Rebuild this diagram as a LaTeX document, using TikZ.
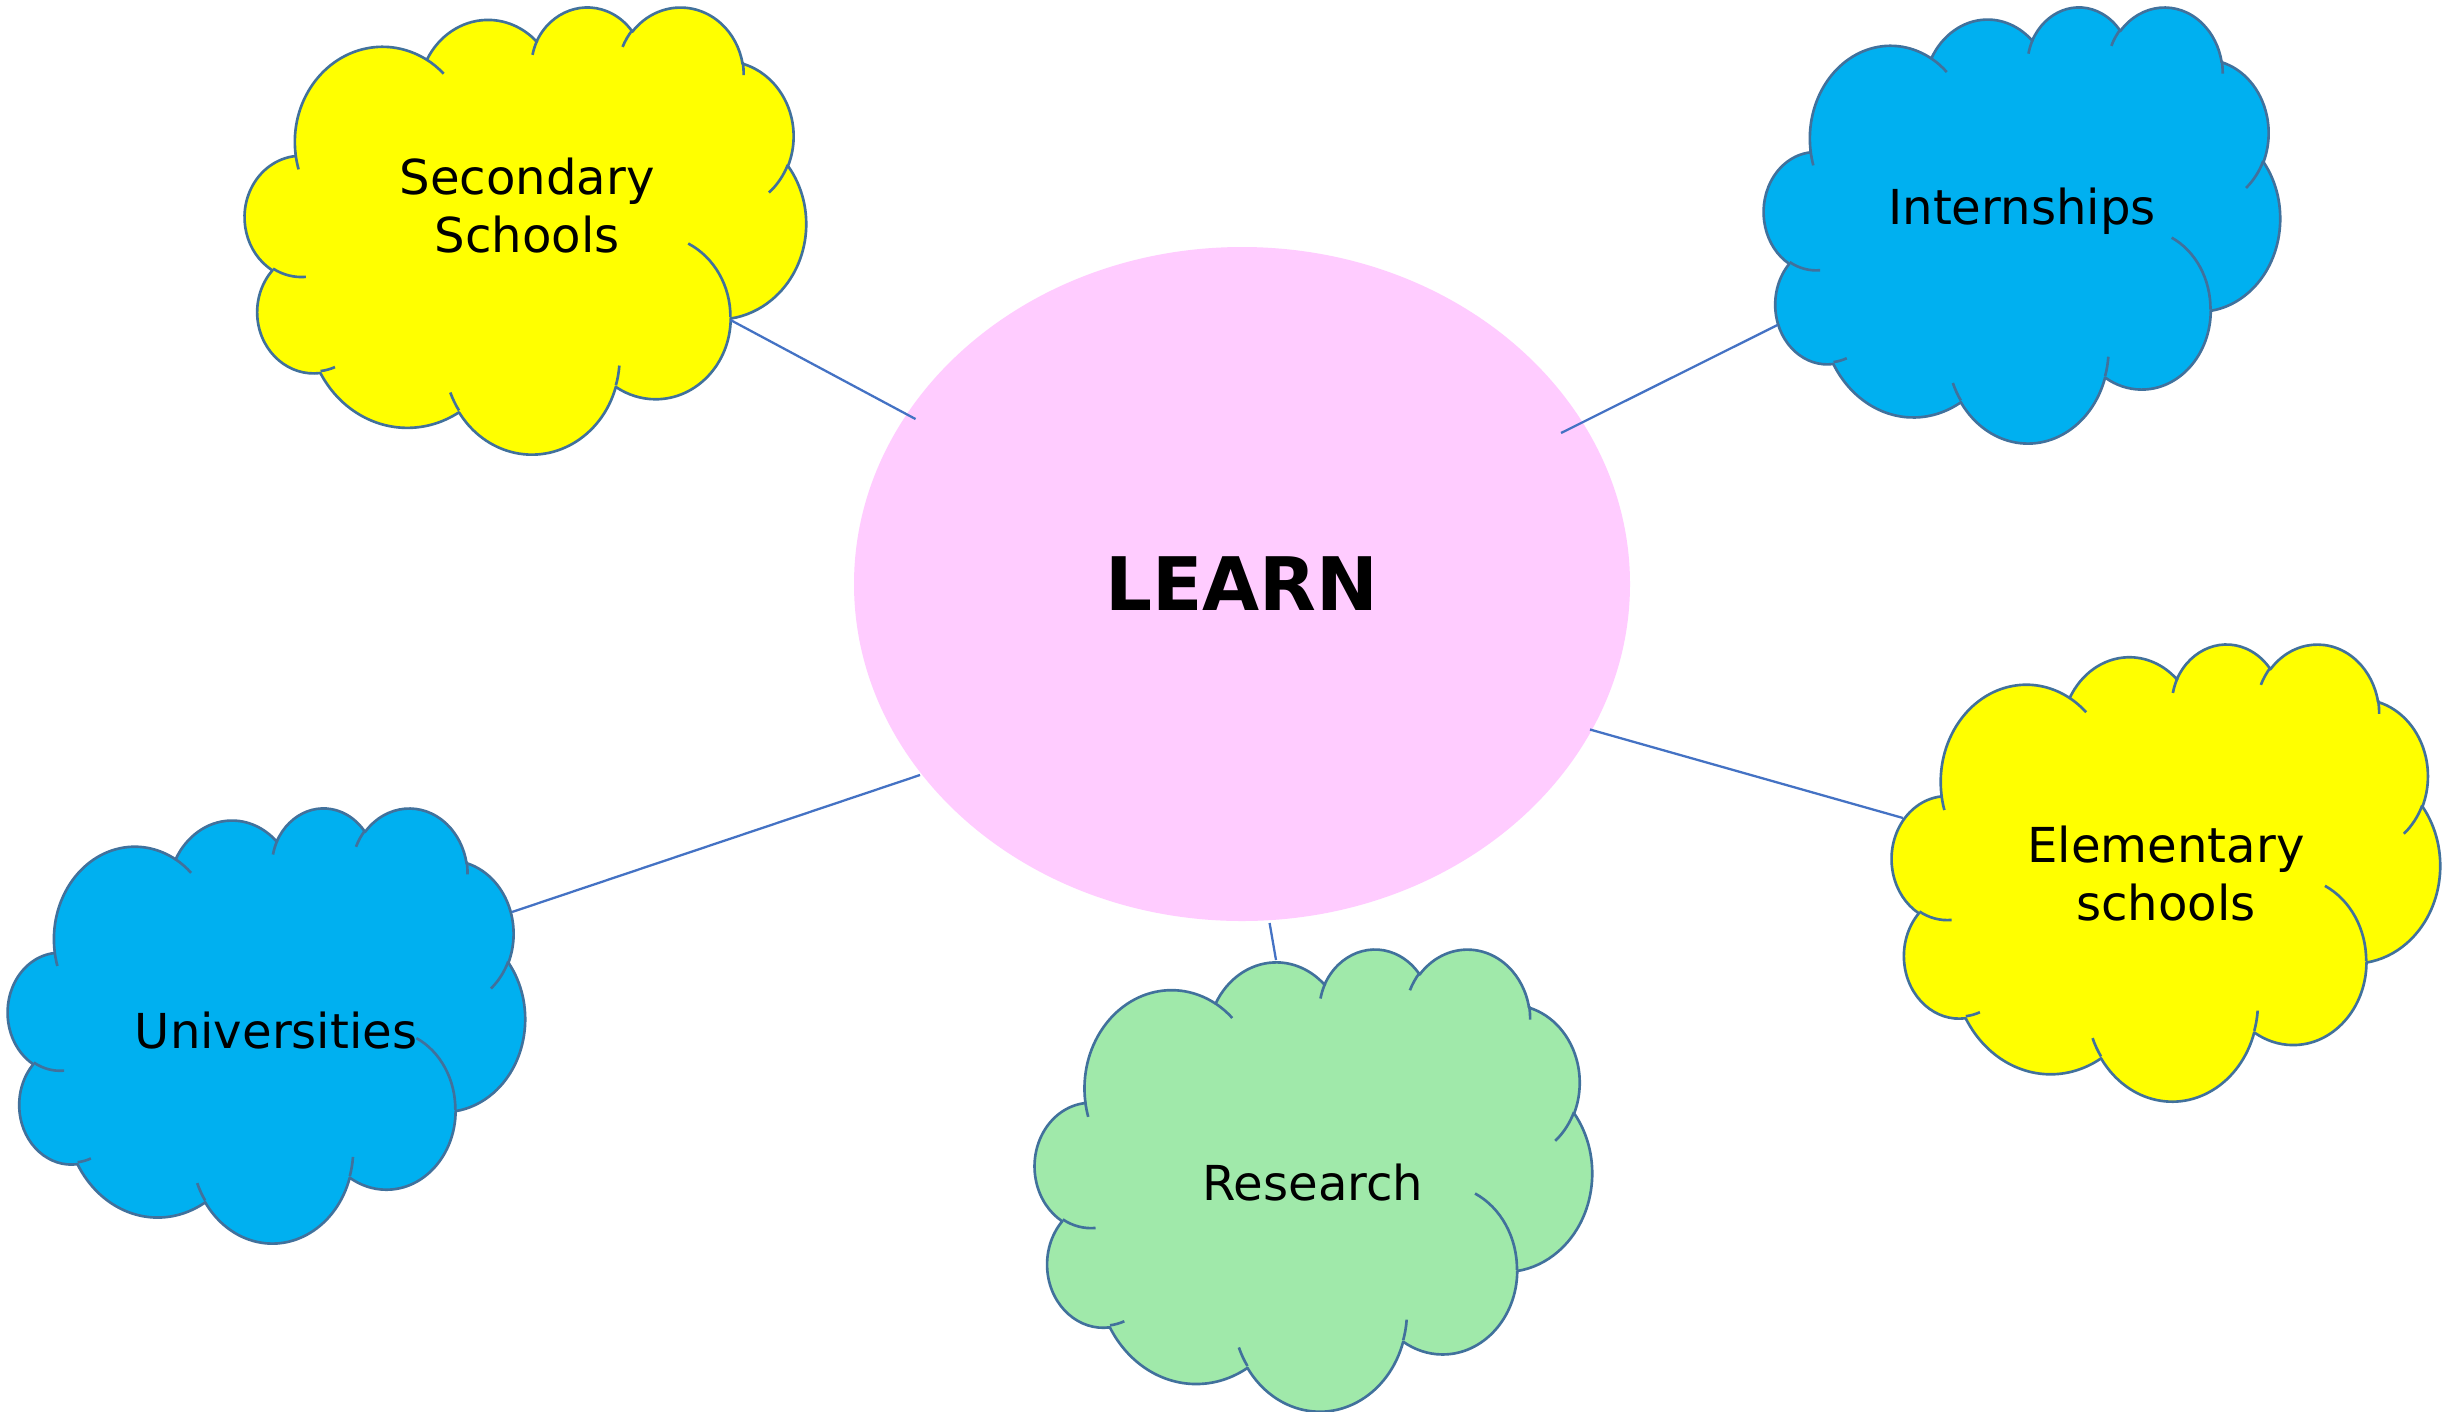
\documentclass[tikz,border=0pt]{standalone}
\usepackage{fontspec}
\setmainfont{DejaVu Sans}
\usetikzlibrary{shapes.geometric}
\definecolor{cloudedge}{HTML}{41719C}
\definecolor{connblue}{HTML}{4472C4}
\definecolor{cyellow}{HTML}{FFFF00}
\definecolor{cblue}{HTML}{00B0F0}
\definecolor{cgreen}{HTML}{A0E9AA}
\definecolor{cpink}{HTML}{FFCCFF}
% visual (DrawingML) angle -> parametric ellipse angle, kept continuous
\def\vp#1#2#3{\fpeval{round((#3) + ((atand((#1)*sind(#3),(#2)*cosd(#3)) - (#3)) - 360*round((atand((#1)*sind(#3),(#2)*cosd(#3)) - (#3))/360)), 4)}}
\newcommand\mkarc[5]{%
  \expandafter\edef\csname cldS#1\endcsname{\vp{#2}{#3}{#4}}%
  \expandafter\edef\csname cldE#1\endcsname{\vp{#2}{#3}{(#4)+(#5)}}%
}
\mkarc{a}{0.6753}{0.9190}{-190.48748}{123.78053}
\mkarc{b}{0.5333}{0.7267}{-144.10238}{89.94523}
\mkarc{c}{0.4365}{0.5945}{-145.80792}{99.72302}
\mkarc{d}{0.4857}{0.6595}{-130.98607}{117.24173}
\mkarc{e}{0.5333}{0.7273}{-78.70888}{109.02692}
\mkarc{f}{0.6775}{0.9220}{-46.26725}{130.269}
\mkarc{g}{0.5785}{0.7867}{0.62502}{114.03333}
\mkarc{h}{0.6752}{0.9215}{22.4516}{115.17255}
\mkarc{i}{0.7720}{1.0543}{66.24263}{75.71102}
\mkarc{j}{0.4360}{0.5918}{-274.94208}{146.73557}
\mkarc{k}{0.4345}{0.5945}{-246.8285}{152.51885}
\mkarc{m}{0.4345}{0.5945}{86.742}{26.4295}
\mkarc{n}{0.4360}{0.5918}{73.61047}{11.44747}
\mkarc{o}{0.6752}{0.9215}{137.62415}{14.0811}
\mkarc{p}{0.6752}{0.9215}{6.45327}{15.99835}
\mkarc{q}{0.5785}{0.7867}{-70.29235}{70.91737}
\mkarc{r}{0.5333}{0.7273}{30.31803}{27.7515}
\mkarc{s}{0.4857}{0.6595}{-13.74433}{14.8589}
\mkarc{t}{0.4857}{0.6595}{-149.18145}{18.19537}
\mkarc{u}{0.4365}{0.5945}{-163.49427}{17.68635}
\mkarc{v}{0.6753}{0.9190}{-66.70695}{12.31935}
\mkarc{w}{0.6753}{0.9190}{157.65435}{11.85817}
\tikzset{
  cloud outline/.style={draw=cloudedge, line width=0.75pt, line join=round},
  conn/.style={draw=connblue, line width=0.65pt},
  lbl/.style={font=\fontsize{13.7}{16.6}\selectfont, inner sep=0pt, text=black},
  hub/.style={ellipse, fill=cpink, draw=none, inner sep=0pt,
    minimum width=7.76cm, minimum height=6.74cm,
    font=\fontsize{21}{25}\selectfont\bfseries}
}
% #1 left, #2 top, #3 width, #4 height (pixels), #5 fill colour
\newcommand\drawcloud[5]{%
\begin{scope}[shift={(#1/100,-#2/100)},xscale=#3/432,yscale=-#4/432]
\draw[cloud outline, fill=#5] (0.39,1.437)
 arc[x radius=0.6753,y radius=0.9190,start angle=\cldSa,end angle=\cldEa]
 arc[x radius=0.5333,y radius=0.7267,start angle=\cldSb,end angle=\cldEb]
 arc[x radius=0.4365,y radius=0.5945,start angle=\cldSc,end angle=\cldEc]
 arc[x radius=0.4857,y radius=0.6595,start angle=\cldSd,end angle=\cldEd]
 arc[x radius=0.5333,y radius=0.7273,start angle=\cldSe,end angle=\cldEe]
 arc[x radius=0.6775,y radius=0.9220,start angle=\cldSf,end angle=\cldEf]
 arc[x radius=0.5785,y radius=0.7867,start angle=\cldSg,end angle=\cldEg]
 arc[x radius=0.6752,y radius=0.9215,start angle=\cldSh,end angle=\cldEh]
 arc[x radius=0.7720,y radius=1.0543,start angle=\cldSi,end angle=\cldEi]
 arc[x radius=0.4360,y radius=0.5918,start angle=\cldSj,end angle=\cldEj]
 arc[x radius=0.4345,y radius=0.5945,start angle=\cldSk,end angle=\cldEk]
 -- cycle;
\draw[cloud outline]
 (0.4693,2.6177) arc[x radius=0.4345,y radius=0.5945,start angle=\cldSm,end angle=\cldEm]
 (0.6928,3.4899) arc[x radius=0.4360,y radius=0.5918,start angle=\cldSn,end angle=\cldEn]
 (1.6478,3.9090) arc[x radius=0.6752,y radius=0.9215,start angle=\cldSo,end angle=\cldEo]
 (2.8827,3.4751) arc[x radius=0.6752,y radius=0.9215,start angle=\cldSp,end angle=\cldEp]
 (3.4129,2.2954) arc[x radius=0.5785,y radius=0.7867,start angle=\cldSq,end angle=\cldEq]
 (4.1798,1.5354) arc[x radius=0.5333,y radius=0.7273,start angle=\cldSr,end angle=\cldEr]
 (3.8324,0.5426) arc[x radius=0.4857,y radius=0.6595,start angle=\cldSs,end angle=\cldEs]
 (2.9078,0.3952) arc[x radius=0.4857,y radius=0.6595,start angle=\cldSt,end angle=\cldEt]
 (2.2141,0.4720) arc[x radius=0.4365,y radius=0.5945,start angle=\cldSu,end angle=\cldEu]
 (1.4000,0.5192) arc[x radius=0.6753,y radius=0.9190,start angle=\cldSv,end angle=\cldEv]
 (0.4127,1.5789) arc[x radius=0.6753,y radius=0.9190,start angle=\cldSw,end angle=\cldEw];
\end{scope}}
\begin{document}
\begin{tikzpicture}
\path[use as bounding box, fill=white] (0,0) rectangle (24.45,-14.11);
% clouds
\drawcloud{245}{6}{561}{447}{cyellow}
\drawcloud{1764}{6}{516}{436}{cblue}
\drawcloud{1892}{643}{548}{457}{cyellow}
\drawcloud{8}{807}{517}{435}{cblue}
\drawcloud{1035}{948}{557}{462}{cgreen}
% central ellipse
\node[hub] (learn) at (12.42,-5.84) {LEARN};
% labels
\node[lbl, anchor=base] (sec) at (5.27,-1.94) {\begin{tabular}[t]{@{}c@{}}Secondary\\Schools\end{tabular}};
\node[lbl, anchor=base] (int) at (20.22,-2.24) {Internships};
\node[lbl, anchor=base] (ele) at (21.66,-8.62) {\begin{tabular}[t]{@{}c@{}}Elementary\\schools\end{tabular}};
\node[lbl, anchor=base] (uni) at (2.76,-10.48) {Universities};
\node[lbl, anchor=base] (res) at (13.13,-12.00) {Research};
% connector end points
\coordinate (secA) at (7.305,-3.20);  \coordinate (secB) at (9.155,-4.19);
\coordinate (intA) at (15.61,-4.33);  \coordinate (intB) at (17.775,-3.25);
\coordinate (eleA) at (15.90,-7.295); \coordinate (eleB) at (19.03,-8.18);
\coordinate (uniA) at (5.12,-9.12);   \coordinate (uniB) at (9.20,-7.75);
\coordinate (resA) at (12.696,-9.23); \coordinate (resB) at (12.76,-9.60);
% connectors
\draw[conn] (secA) -- (secB);
\draw[conn] (intA) -- (intB);
\draw[conn] (eleA) -- (eleB);
\draw[conn] (uniA) -- (uniB);
\draw[conn] (resA) -- (resB);
\end{tikzpicture}
\end{document}
